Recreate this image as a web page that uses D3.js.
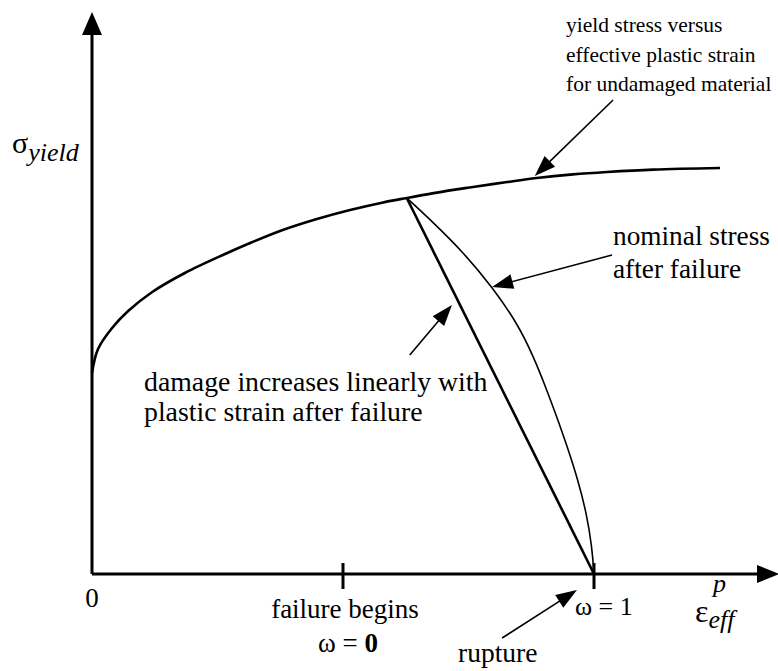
<!DOCTYPE html>
<html>
<head>
<meta charset="utf-8">
<script src="https://cdn.jsdelivr.net/npm/d3@7"></script>
<style>
  html, body { margin: 0; padding: 0; background: #fff; }
  svg { display: block; }
</style>
</head>
<body>
<script>
// Yield stress of the undamaged material vs effective plastic strain
const yieldStrain = [0, 0.012, 0.040, 0.072, 0.120, 0.185, 0.265, 0.315, 0.380, 0.448, 0.514, 0.580, 0.627, 0.713, 0.759, 0.827, 0.886, 0.958, 1.026, 1.118, 1.251];
const yieldStress = [0.5025, 0.5625, 0.615, 0.6575, 0.705, 0.7525, 0.80, 0.8275, 0.86, 0.8875, 0.91, 0.929, 0.94, 0.959, 0.9675, 0.98, 0.99, 0.999, 1.005, 1.011, 1.015];

// Failure onset (omega = 0) and rupture (omega = 1)
const failureStrain = 0.627, failureStress = 0.94;
const ruptureStrain = 1.0;

// Nominal stress after failure
const nominalStrain = [0.627, 0.681, 0.741, 0.797, 0.847, 0.879, 0.906, 0.923, 0.947, 0.968, 0.985, 0.996, 1.0];
const nominalStress = [0.94, 0.8775, 0.8025, 0.7175, 0.6275, 0.545, 0.46, 0.4025, 0.3175, 0.235, 0.1525, 0.0675, 0];

// Tick positions on the strain axis
const tickStrains = [0.5, 1.0];

const W = 778, H = 671;
const FONT = "'Liberation Serif', 'Times New Roman', Times, 'DejaVu Serif', serif";
const svg = d3.select("body").append("svg").attr("width", W).attr("height", H)
  .attr("font-family", FONT);

const x = d3.scaleLinear().domain([0, 1]).range([92, 594]);
const y = d3.scaleLinear().domain([0, 1]).range([574, 174]);

// Size text so that a line set in the available face is as wide as in Times
const probe = svg.append("text").attr("font-size", 100).text("damage increases linearly with");
const fontScale = 1235.8 / probe.node().getComputedTextLength();
probe.remove();
const fsz = s => s * fontScale;

// Filled arrowhead with its tip at (tx, ty), pointing away from (fx, fy)
function arrowHead(g, fx, fy, tx, ty, len, half) {
  const a = Math.atan2(ty - fy, tx - fx);
  const bx = tx - len * Math.cos(a), by = ty - len * Math.sin(a);
  const nx = -Math.sin(a) * half, ny = Math.cos(a) * half;
  g.append("path")
    .attr("d", `M${tx},${ty}L${bx + nx},${by + ny}L${bx - nx},${by - ny}Z`)
    .attr("fill", "#000");
}

// Axes
const axes = svg.append("g");
axes.append("line").attr("x1", x(0)).attr("y1", y(0)).attr("x2", x(0)).attr("y2", 30)
  .attr("stroke", "#000").attr("stroke-width", 3);
arrowHead(axes, x(0), y(0), x(0), 12, 23, 10);
axes.append("line").attr("x1", x(0)).attr("y1", y(0)).attr("x2", 760).attr("y2", y(0))
  .attr("stroke", "#000").attr("stroke-width", 3);
arrowHead(axes, x(0), y(0), 779, y(0), 22, 9);

axes.selectAll("line.tick").data(tickStrains).join("line").attr("class", "tick")
  .attr("x1", d => x(d)).attr("x2", d => x(d))
  .attr("y1", y(0) - 11).attr("y2", y(0) + 15)
  .attr("stroke", "#000").attr("stroke-width", 3);

// Curves
const line = d3.line().x(d => x(d[0])).y(d => y(d[1])).curve(d3.curveCatmullRom.alpha(0.5));
const smooth = d3.line().x(d => x(d[0])).y(d => y(d[1])).curve(d3.curveBasis);

svg.append("path")
  .attr("d", line(yieldStrain.map((s, i) => [s, yieldStress[i]])))
  .attr("fill", "none").attr("stroke", "#000").attr("stroke-width", 2.6);

svg.append("path")
  .attr("d", smooth(nominalStrain.map((s, i) => [s, nominalStress[i]])))
  .attr("fill", "none").attr("stroke", "#000").attr("stroke-width", 1.6);

svg.append("line")
  .attr("x1", x(failureStrain)).attr("y1", y(failureStress))
  .attr("x2", x(ruptureStrain)).attr("y2", y(0))
  .attr("stroke", "#000").attr("stroke-width", 2.6);

// Callout arrows: [fromStrain, fromStress, toStrain, toStress]
const callouts = [
  [1.038, 1.185, 0.882, 0.995],
  [1.036, 0.7975, 0.797, 0.7175],
  [0.633, 0.5475, 0.717, 0.6725],
  [0.817, -0.16, 0.966, -0.04]
];
const cg = svg.append("g");
callouts.forEach(c => {
  const fx = x(c[0]), fy = y(c[1]), tx = x(c[2]), ty = y(c[3]);
  const a = Math.atan2(ty - fy, tx - fx);
  cg.append("line").attr("x1", fx).attr("y1", fy)
    .attr("x2", tx - 15 * Math.cos(a)).attr("y2", ty - 15 * Math.sin(a))
    .attr("stroke", "#000").attr("stroke-width", 1.6);
  arrowHead(cg, fx, fy, tx, ty, 21, 7.5);
});

// Text labels
function label(txt, px, py, size, anchor) {
  return svg.append("text").attr("x", px).attr("y", py)
    .attr("font-size", fsz(size)).attr("text-anchor", anchor || "start").text(txt);
}

label("yield stress versus", 566, 32, 21.5);
label("effective plastic strain", 566, 62, 21.5);
label("for undamaged material", 566, 91, 21.5);

label("nominal stress", 613, 245, 27.3);
label("after failure", 613, 278, 27.3);

label("damage increases linearly with", 144, 391, 27.8);
label("plastic strain after failure", 144, 421, 27.8);

label("0", x(0), 607, 27, "middle");
label("failure begins", 345, 618, 27, "middle");

const w0 = svg.append("text").attr("x", 348).attr("y", 652)
  .attr("font-size", fsz(27)).attr("text-anchor", "middle");
w0.append("tspan").text("ω = ");
w0.append("tspan").attr("font-weight", "bold").text("0");

label("ω = 1", 575, 615, 26);
label("rupture", 458, 662, 27.5);

// Axis titles
const ty = svg.append("text").attr("x", 12).attr("y", 153).attr("font-size", 30);
ty.append("tspan").text("σ");
ty.append("tspan").attr("font-style", "italic").attr("font-size", 26).attr("dy", 8).text("yield");

const tx = svg.append("text").attr("x", 695).attr("y", 622).attr("font-size", 32);
tx.append("tspan").text("ε");
tx.append("tspan").attr("font-style", "italic").attr("font-size", 26).attr("dy", 6).text("eff");
svg.append("text").attr("x", 713).attr("y", 592).attr("font-size", 26)
  .attr("font-style", "italic").text("p");
</script>
</body>
</html>
